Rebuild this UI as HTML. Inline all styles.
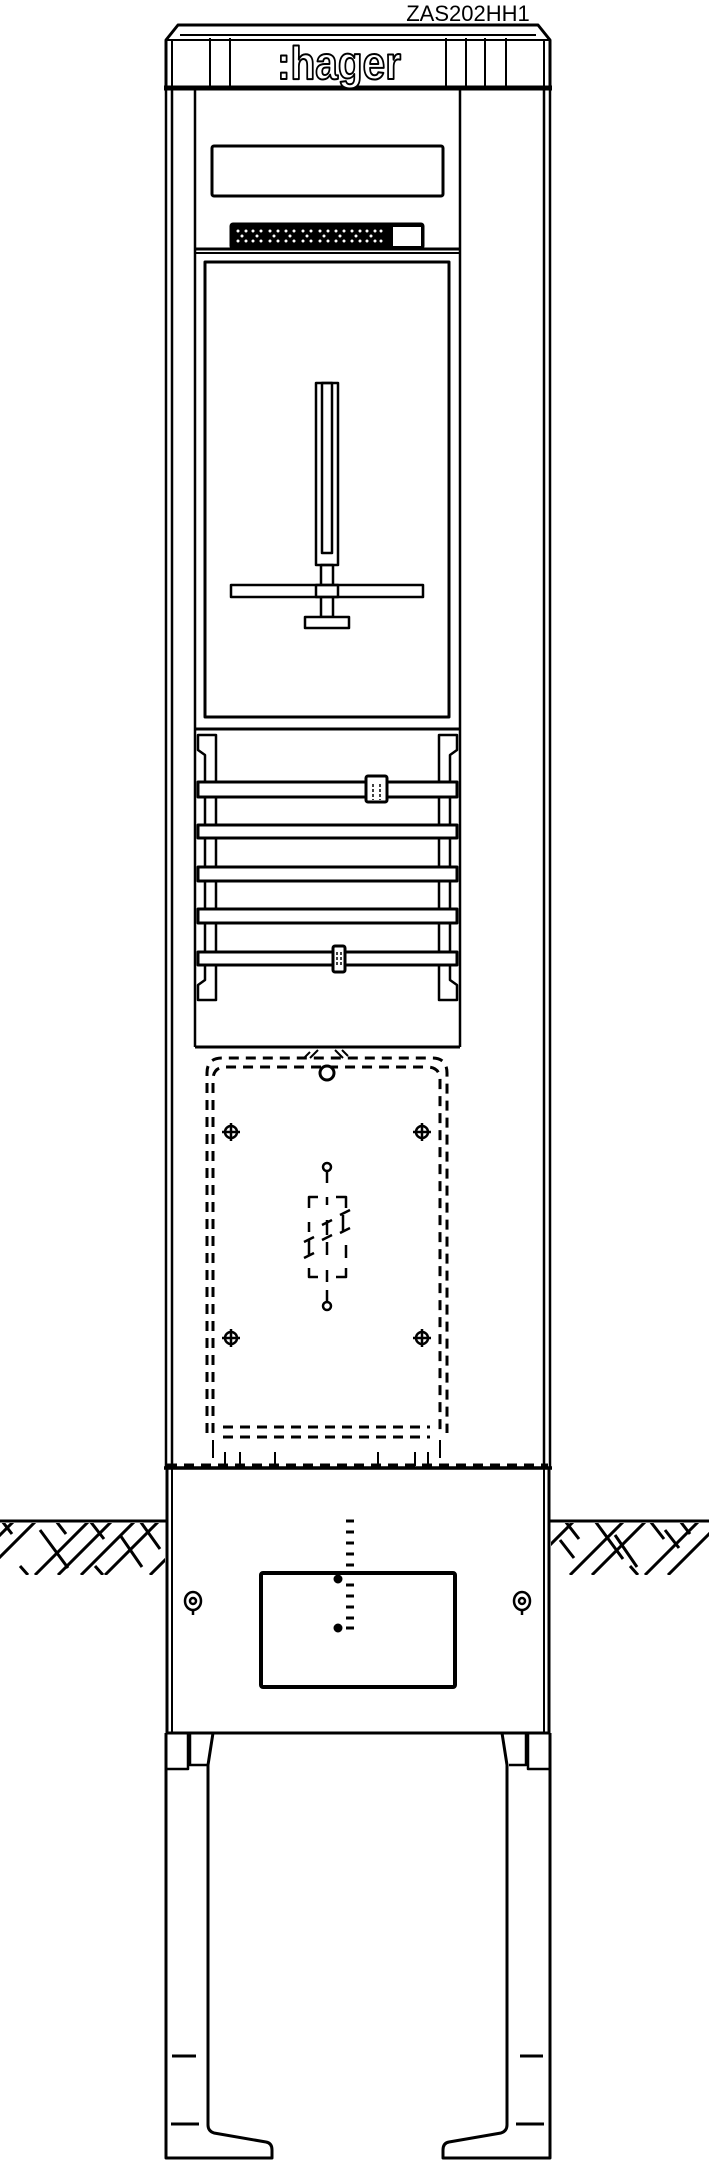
<!DOCTYPE html>
<html><head><style>html,body{margin:0;padding:0;background:#fff}svg{display:block}</style></head>
<body>
<svg width="709" height="2160" viewBox="0 0 709 2160" xmlns="http://www.w3.org/2000/svg">
<defs>
<clipPath id="gl"><rect x="0" y="1523" width="165" height="52"/></clipPath>
<clipPath id="gr"><rect x="551" y="1523" width="158" height="52"/></clipPath>
</defs>
<g fill="none" stroke="#000" stroke-width="3" stroke-linejoin="round">
<text x="468" y="21" font-family="Liberation Sans, sans-serif" font-size="22" fill="#000" stroke="none" text-anchor="middle">ZAS202HH1</text>
<path d="M166 88 L166 40 L178 25 L538 25 L550 40 L550 88 Z"/>
<line x1="180" y1="35" x2="536" y2="35" stroke-width="2"/>
<line x1="166" y1="40" x2="550" y2="40" stroke-width="2"/>
<line x1="172" y1="40" x2="172" y2="88" stroke-width="2"/>
<line x1="544" y1="40" x2="544" y2="88" stroke-width="2"/>
<line x1="210" y1="38" x2="210" y2="88" stroke-width="2"/>
<line x1="230" y1="38" x2="230" y2="88" stroke-width="2"/>
<line x1="446" y1="38" x2="446" y2="88" stroke-width="2"/>
<line x1="466" y1="38" x2="466" y2="88" stroke-width="2"/>
<line x1="485" y1="38" x2="485" y2="88" stroke-width="2"/>
<line x1="506" y1="38" x2="506" y2="88" stroke-width="2"/>
<line x1="164" y1="88" x2="552" y2="88" stroke-width="5"/>
<text x="339" y="79" font-family="Liberation Sans, sans-serif" font-weight="bold" font-size="46" fill="#fff" stroke="#000" stroke-width="2" text-anchor="middle" textLength="124" lengthAdjust="spacingAndGlyphs">:hager</text>
<line x1="166" y1="88" x2="166" y2="1468" stroke-width="2.5"/>
<line x1="172" y1="88" x2="172" y2="1468" stroke-width="2.5"/>
<line x1="544" y1="88" x2="544" y2="1468" stroke-width="2.5"/>
<line x1="550" y1="88" x2="550" y2="1468" stroke-width="2.5"/>
<line x1="195" y1="88" x2="195" y2="1047" stroke-width="2.5"/>
<line x1="460" y1="88" x2="460" y2="1047" stroke-width="2.5"/>
<rect x="212" y="146" width="231" height="50" rx="2"/>
<rect x="231" y="224" width="192" height="24" rx="2" fill="#000"/>
<rect x="393" y="227" width="28" height="19" fill="#fff" stroke="none"/>
<g fill="#fff" stroke="none">
<circle cx="238" cy="231" r="1.5"/><circle cx="246" cy="231" r="1.5"/><circle cx="238" cy="241" r="1.5"/><circle cx="246" cy="241" r="1.5"/><circle cx="242" cy="236" r="1.5"/>
<circle cx="253" cy="231" r="1.5"/><circle cx="261" cy="231" r="1.5"/><circle cx="253" cy="241" r="1.5"/><circle cx="261" cy="241" r="1.5"/><circle cx="257" cy="236" r="1.5"/>
<circle cx="270" cy="231" r="1.5"/><circle cx="278" cy="231" r="1.5"/><circle cx="270" cy="241" r="1.5"/><circle cx="278" cy="241" r="1.5"/><circle cx="274" cy="236" r="1.5"/>
<circle cx="286" cy="231" r="1.5"/><circle cx="294" cy="231" r="1.5"/><circle cx="286" cy="241" r="1.5"/><circle cx="294" cy="241" r="1.5"/><circle cx="290" cy="236" r="1.5"/>
<circle cx="303" cy="231" r="1.5"/><circle cx="311" cy="231" r="1.5"/><circle cx="303" cy="241" r="1.5"/><circle cx="311" cy="241" r="1.5"/><circle cx="307" cy="236" r="1.5"/>
<circle cx="320" cy="231" r="1.5"/><circle cx="328" cy="231" r="1.5"/><circle cx="320" cy="241" r="1.5"/><circle cx="328" cy="241" r="1.5"/><circle cx="324" cy="236" r="1.5"/>
<circle cx="336" cy="231" r="1.5"/><circle cx="344" cy="231" r="1.5"/><circle cx="336" cy="241" r="1.5"/><circle cx="344" cy="241" r="1.5"/><circle cx="340" cy="236" r="1.5"/>
<circle cx="352" cy="231" r="1.5"/><circle cx="360" cy="231" r="1.5"/><circle cx="352" cy="241" r="1.5"/><circle cx="360" cy="241" r="1.5"/><circle cx="356" cy="236" r="1.5"/>
<circle cx="367" cy="231" r="1.5"/><circle cx="375" cy="231" r="1.5"/><circle cx="367" cy="241" r="1.5"/><circle cx="375" cy="241" r="1.5"/><circle cx="371" cy="236" r="1.5"/>
<circle cx="381" cy="231" r="1.5"/><circle cx="381" cy="241" r="1.5"/>
</g>
<line x1="195" y1="249" x2="460" y2="249"/>
<line x1="195" y1="253" x2="460" y2="253" stroke-width="2"/>
<rect x="205" y="262" width="244" height="455"/>
<rect x="316" y="383" width="22" height="182" stroke-width="2.5"/>
<rect x="322" y="383" width="10" height="170" stroke-width="2.5"/>
<rect x="321" y="565" width="12" height="52" stroke-width="2.5"/>
<rect x="231" y="585" width="192" height="12" stroke-width="2.5" fill="#fff"/>
<rect x="316" y="585" width="22" height="12" stroke-width="2.5"/>
<rect x="305" y="617" width="44" height="11" stroke-width="2.5" fill="#fff"/>
<line x1="195" y1="729" x2="460" y2="729"/>
<path d="M198 735 H216 V1000 H198 V985 L205 980 V755 L198 750 Z" stroke-width="2.5"/>
<path d="M457 735 H439 V1000 H457 V985 L450 980 V755 L457 750 Z" stroke-width="2.5"/>
<g fill="#fff">
<rect x="198" y="782" width="259" height="15"/>
<rect x="198" y="825" width="259" height="13"/>
<rect x="198" y="867" width="259" height="14"/>
<rect x="198" y="909" width="259" height="14"/>
<rect x="198" y="952" width="259" height="13"/>
<rect x="366" y="776" width="21" height="26" rx="2"/>
<rect x="333" y="946" width="12" height="26" rx="2"/>
</g>
<path d="M373 784 v16 M380 784 v16 M337 952 v14 M341 952 v14" stroke-width="1.5" stroke-dasharray="3 2"/>
<line x1="195" y1="1047" x2="460" y2="1047"/>
<g stroke-dasharray="10 7">
<path d="M207 1433 V1073 Q207 1058 222 1058 H432 Q447 1058 447 1073 V1433"/>
<path d="M213 1433 V1080 Q213 1067 226 1067 H427 Q440 1067 440 1080 V1433"/>
<path d="M223 1427 H430 M223 1437 H430"/>
<line x1="167" y1="1465" x2="548" y2="1465"/>
</g>
<path d="M213 1440 V1458 M440 1440 V1458 M225 1452 V1466 M240 1452 V1466 M275 1452 V1466 M378 1452 V1466 M415 1452 V1466 M428 1452 V1466" stroke-width="2"/>
<path d="M310 1052 l-6 6 M318 1050 l-8 8 M335 1050 l8 8 M342 1050 l6 6" stroke-width="2"/>
<circle cx="327" cy="1073" r="7" fill="#fff"/>
<g stroke-width="2.5">
<circle cx="231" cy="1132" r="6"/><path d="M222 1132 H240 M231 1123 V1141"/>
<circle cx="422" cy="1132" r="6"/><path d="M413 1132 H431 M422 1123 V1141"/>
<circle cx="231" cy="1338" r="6"/><path d="M222 1338 H240 M231 1329 V1347"/>
<circle cx="422" cy="1338" r="6"/><path d="M413 1338 H431 M422 1329 V1347"/>
<circle cx="327" cy="1167" r="4"/><line x1="327" y1="1171" x2="327" y2="1183"/>
<circle cx="327" cy="1306" r="4"/><line x1="327" y1="1290" x2="327" y2="1302"/>
<path d="M309 1208 V1197 H318 M336 1197 H346 V1208 M309 1268 V1277 H318 M336 1277 H346 V1268 M327 1197 V1205 M327 1270 V1282 M309 1222 V1232 M346 1245 V1258" />
<path d="M304 1242 l10 -5 M304 1258 l10 -5 M309 1240 V1256 M322 1225 l10 -5 M322 1240 l10 -5 M327 1220 V1235 M327 1242 V1255 M340 1215 l10 -5 M340 1233 l10 -5 M343 1215 V1232"/>
</g>
<line x1="164" y1="1468" x2="552" y2="1468" stroke-width="3.5"/>
<line x1="167" y1="1468" x2="167" y2="1733"/>
<line x1="172" y1="1468" x2="172" y2="1733" stroke-width="2"/>
<line x1="544" y1="1468" x2="544" y2="1733" stroke-width="2"/>
<line x1="549" y1="1468" x2="549" y2="1733"/>
<line x1="166" y1="1733" x2="550" y2="1733"/>
<rect x="261" y="1573" width="194" height="114" rx="2" stroke-width="4"/>
<path d="M346 1521 h8 M346 1532 h8 M346 1543 h8 M346 1554 h8 M346 1565 h8 M346 1585 h8 M346 1596 h8 M346 1607 h8 M346 1618 h8 M346 1628 h8" stroke-width="3"/>
<circle cx="338" cy="1579" r="3" fill="#000"/>
<circle cx="338" cy="1628" r="3" fill="#000"/>
<g stroke-width="2.5">
<ellipse cx="193" cy="1601" rx="8" ry="9"/><circle cx="193" cy="1601" r="3"/><line x1="193" y1="1610" x2="193" y2="1615"/>
<ellipse cx="522" cy="1601" rx="8" ry="9"/><circle cx="522" cy="1601" r="3"/><line x1="522" y1="1610" x2="522" y2="1615"/>
</g>
<line x1="0" y1="1521" x2="166" y2="1521"/>
<line x1="550" y1="1521" x2="709" y2="1521"/>
<g clip-path="url(#gl)" stroke-width="3">
<path d="M-40 1575 l54 -54 M-18 1575 l54 -54 M35 1575 l54 -54 M58 1575 l54 -54 M81 1575 l54 -54 M105 1575 l54 -54 M150 1575 l54 -54"/>
<path d="M2 1521 l10 13 M40 1530 l28 38 M90 1521 l14 18 M56 1521 l10 13 M120 1535 l22 32 M140 1521 l20 28 M20 1566 l8 9 M95 1566 l8 9"/>
</g>
<g clip-path="url(#gr)" stroke-width="3">
<path d="M520 1575 l54 -54 M570 1575 l54 -54 M592 1575 l54 -54 M645 1575 l54 -54 M668 1575 l54 -54 M712 1575 l54 -54"/>
<path d="M565 1521 l14 18 M560 1540 l14 18 M595 1521 l28 38 M615 1535 l22 32 M650 1521 l14 18 M665 1530 l14 18 M680 1521 l10 13 M630 1566 l8 9"/>
</g>
<path d="M166 1733 V2158 H272 V2150 Q272 2143 266 2142 L214 2133 Q208 2131 208 2125 V1765 L213 1733" stroke-width="3"/>
<path d="M167 1769 H188 V1733 M190 1733 V1765 H207" stroke-width="2.5"/>
<path d="M550 1733 V2158 H443 V2150 Q443 2143 449 2142 L501 2133 Q507 2131 507 2125 V1765 L502 1733" stroke-width="3"/>
<path d="M549 1769 H528 V1733 M526 1733 V1765 H509" stroke-width="2.5"/>
<path d="M172 2056 H196 M171 2124 H199 M520 2056 H543 M516 2124 H544" stroke-width="3"/>
</g>
</svg>
</body></html>
